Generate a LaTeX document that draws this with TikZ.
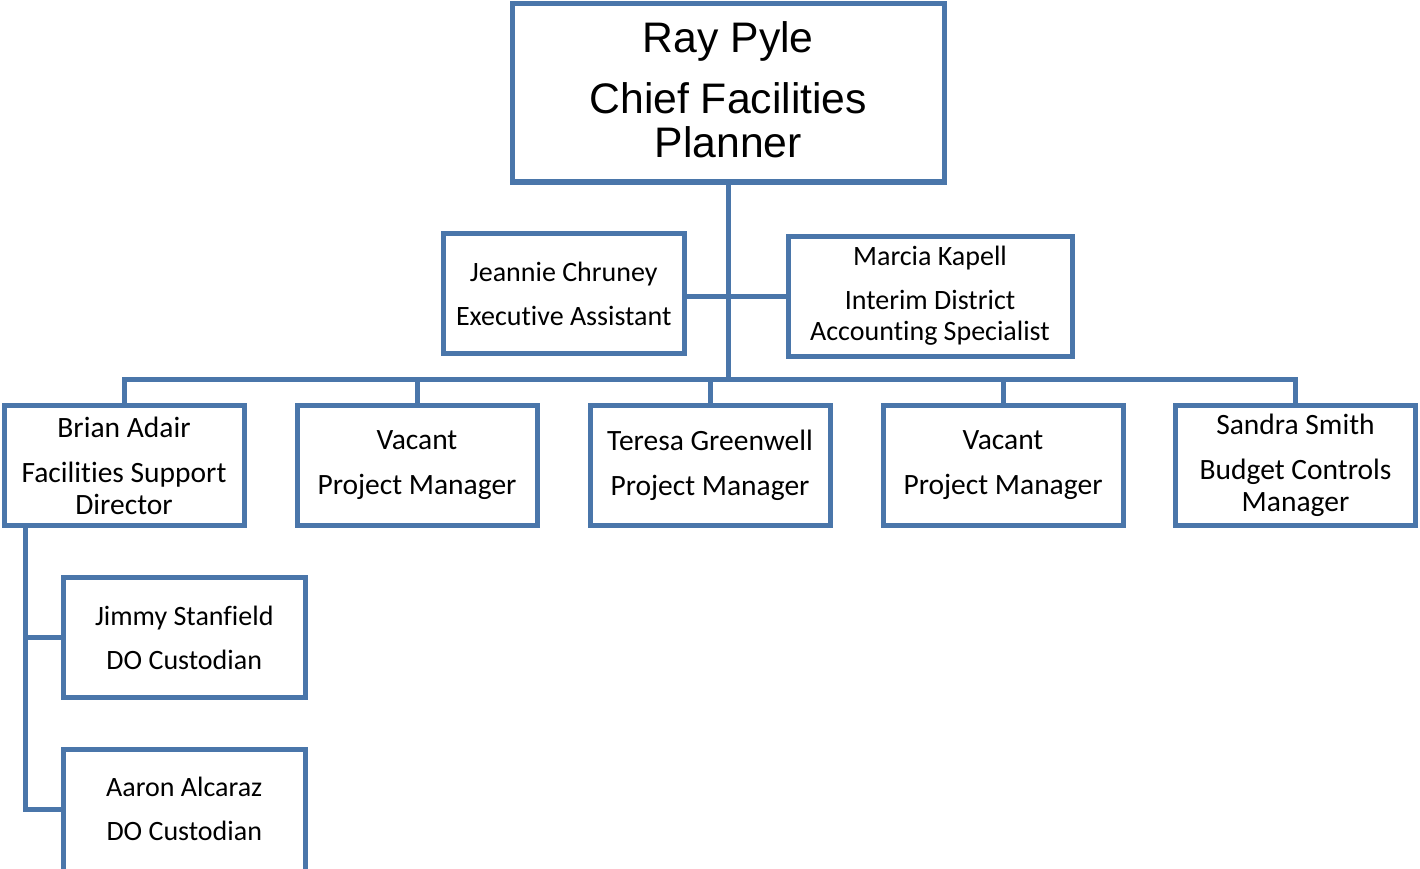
\documentclass[tikz,border=0pt]{standalone}
\usepackage{fontspec}
\setmainfont{Carlito}[Ligatures=NoCommon]
\newfontfamily\arialfont{Liberation Sans}
\definecolor{orgblue}{HTML}{4A76AA}
\tikzset{
  box/.style={draw=orgblue, line width=5pt, fill=white, inner sep=0pt, align=center,
    font=\fontsize{28}{31}\selectfont},
  rowbox/.style={box, minimum width=240pt, minimum height=120pt,
    font=\fontsize{29.5}{32}\selectfont},
  conn/.style={draw=orgblue, line width=5pt},
}
\begin{document}
\begin{tikzpicture}[x=1pt,y=-1pt]
\clip (0,0) rectangle (1420,869);
\fill[white] (0,0) rectangle (1420,869);

\node[box, minimum width=432.5pt, minimum height=178.5pt] (top) at (728.25,92.75) {};
\node[inner sep=0pt, align=center, font=\arialfont\fontsize{42.7}{44}\selectfont] (toptext) at (728.25,90)
  {Ray Pyle\\[17pt]Chief Facilities\\Planner};

\node[box, minimum width=241.5pt, minimum height=120pt] (jeannie) at (563.75,293.5)
  {Jeannie Chruney\\[13pt]Executive Assistant};
\node[box, minimum width=284pt, minimum height=120pt] (marcia) at (930,296)
  {Marcia Kapell\\[13pt]Interim District\\Accounting Specialist};

\node[rowbox] (brian) at (124,465.5)
  {Brian Adair\\[13pt]Facilities Support\\Director};
\node[rowbox] (vac1) at (417,465.5)
  {Vacant\\[13pt]Project Manager};
\node[rowbox] (teresa) at (710,465.5)
  {Teresa Greenwell\\[13pt]Project Manager};
\node[rowbox] (vac2) at (1003,465.5)
  {Vacant\\[13pt]Project Manager};
\node[rowbox] (sandra) at (1295.5,465.5)
  {Sandra Smith\\[13pt]Budget Controls\\Manager};

\node[box, minimum width=241.5pt, minimum height=120pt] (jimmy) at (184.25,637.5)
  {Jimmy Stanfield\\[13pt]DO Custodian};
\node[box, draw=none, fill=none, outer sep=0pt, minimum width=241.5pt, minimum height=120pt] (aaron) at (184.25,809)
  {Aaron Alcaraz\\[13pt]DO Custodian};
\draw[conn] (aaron.north west) rectangle ([yshift=-8pt]aaron.south east);

\coordinate (bus) at (728.25,379.5);
\coordinate (stem) at ([xshift=24pt]brian.south west);

\draw[conn] (top.south) -- (top.south |- bus);
\draw[conn] (jeannie.east |- marcia.west) -- (marcia.west);
\draw[conn] (brian.north) -- (brian.north |- bus) -- (sandra.north |- bus) -- (sandra.north);
\draw[conn] (vac1.north) -- (vac1.north |- bus);
\draw[conn] (teresa.north) -- (teresa.north |- bus);
\draw[conn] (vac2.north) -- (vac2.north |- bus);
\draw[conn] (stem) |- ([xshift=-2.5pt]aaron.west);
\draw[conn] (jimmy.west) -- (jimmy.west -| stem);
\end{tikzpicture}
\end{document}
